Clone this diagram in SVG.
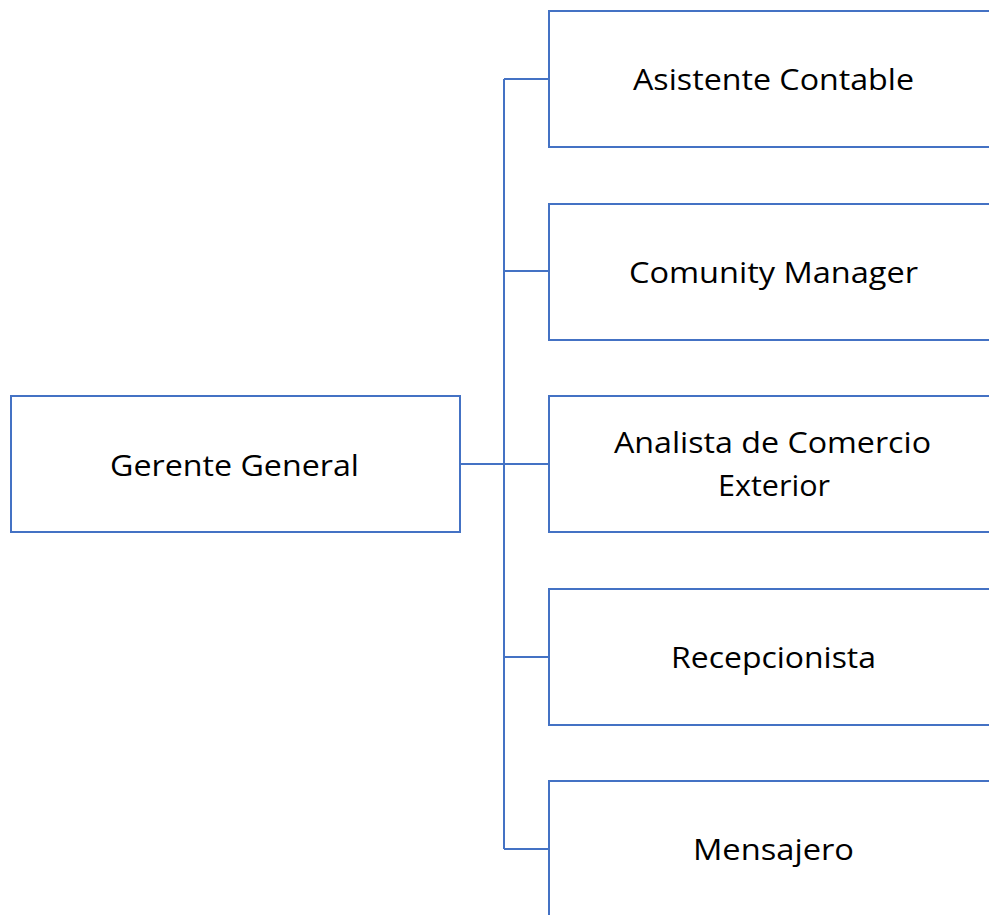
<svg xmlns="http://www.w3.org/2000/svg" width="989" height="915" viewBox="0 0 989 915">
<style>
.box{fill:#fff;stroke:#4472C4;stroke-width:2}
.conn{fill:none;stroke:#4472C4;stroke-width:2}
text{font-family:"Open Sans","Liberation Sans",Arial,sans-serif;font-size:30px;fill:#000;text-anchor:middle;dominant-baseline:central}
</style>
<rect width="989" height="915" fill="#fff"/>
<g id="connectors">
<path class="conn" d="M460,464 H549 M504,79 V849 M504,79 H549 M504,271 H549 M504,657 H549 M504,849 H549"/>
</g>
<g id="gerente"><rect class="box" x="11" y="396" width="449" height="136"/><text x="234.5" y="464" textLength="249" lengthAdjust="spacingAndGlyphs">Gerente General</text></g>
<g id="asistente"><rect class="box" x="549" y="11" width="449" height="136"/><text x="773.5" y="78" textLength="281" lengthAdjust="spacingAndGlyphs">Asistente Contable</text></g>
<g id="community"><rect class="box" x="549" y="204" width="449" height="136"/><text x="773.5" y="271" textLength="289" lengthAdjust="spacingAndGlyphs">Comunity Manager</text></g>
<g id="analista"><rect class="box" x="549" y="396" width="449" height="136"/><text x="772.5" y="441" textLength="317" lengthAdjust="spacingAndGlyphs">Analista de Comercio</text><text x="774" y="484" textLength="112" lengthAdjust="spacingAndGlyphs">Exterior</text></g>
<g id="recepcionista"><rect class="box" x="549" y="589" width="449" height="136"/><text x="773.5" y="656" textLength="205" lengthAdjust="spacingAndGlyphs">Recepcionista</text></g>
<g id="mensajero"><rect class="box" x="549" y="781" width="449" height="160"/><text x="773.5" y="848" textLength="161" lengthAdjust="spacingAndGlyphs">Mensajero</text></g>
</svg>
